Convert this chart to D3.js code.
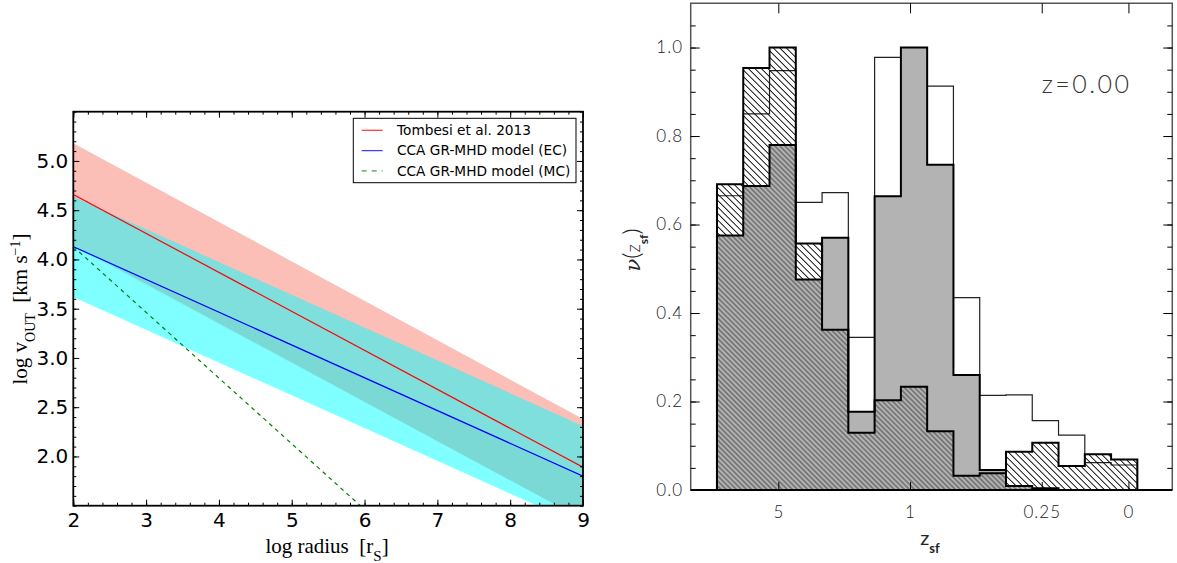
<!DOCTYPE html>
<html>
<head>
<meta charset="utf-8">
<script src="https://cdn.jsdelivr.net/npm/d3@7"></script>
<style>
  body { margin: 0; background: #fff; }
  svg { display: block; }
</style>
</head>
<body>
<div id="chart"></div>
<script>
// Left panel: outflow velocity vs radius (end points of each straight line, log units)
const radius      = [2, 9];
const tombesiMid  = [4.66, 1.89];
const tombesiUp   = [5.18, 2.38];
const tombesiLow  = [4.15, 1.36];
const ecMid       = [4.13, 1.80];
const ecUp        = [4.64, 2.31];
const ecLow       = [3.62, 1.29];
const mcMid       = [4.13, -0.54];
const legendLabels = ["Tombesi et al. 2013", "CCA GR-MHD model (EC)", "CCA GR-MHD model (MC)"];

// Right panel: three normalised histograms over 17 bins of z_sf
const histOpen  = [0, 0.665, 0.85, 0.948, 0.65, 0.672, 0.345, 0.978, 0.96, 0.913, 0.435, 0.214, 0.215, 0.157, 0.124, 0.062, 0.0565];
const histGray  = [0, 0.575, 0.687, 0.78, 0.476, 0.57, 0.177, 0.664, 1.0, 0.735, 0.26, 0.045, 0.009, 0.004, 0, 0, 0];
const histHatch = [0, 0.691, 0.954, 1.0, 0.557, 0.362, 0.1295, 0.203, 0.2335, 0.133, 0.032, 0.038, 0.0866, 0.107, 0.054, 0.081, 0.069];
const zTickPos    = [3.335, 8.348, 13.36, 16.66];
const zTickLabels = ["5", "1", "0.25", "0"];
const yTicksR     = [0, 0.2, 0.4, 0.6, 0.8, 1.0];

const W = 1177, H = 563;
const svg = d3.select("#chart").append("svg").attr("width", W).attr("height", H);
const defs = svg.append("defs");

// ---------- left panel ----------
const L = { left: 73.3, right: 583, top: 111.7, bottom: 505.7 };
const xL = d3.scaleLinear().domain([2, 9]).range([L.left, L.right]);
const yL = d3.scaleLinear().domain([1.5, 5.5]).range([L.bottom, L.top]);

defs.append("clipPath").attr("id", "clipL")
  .append("rect")
  .attr("x", L.left).attr("y", L.top)
  .attr("width", L.right - L.left).attr("height", L.bottom - L.top);

const gL = svg.append("g").attr("clip-path", "url(#clipL)");

const band = (lo, hi) => d3.area()
  .x((d, i) => xL(radius[i]))
  .y0((d, i) => yL(lo[i]))
  .y1((d, i) => yL(hi[i]))(radius);
const line = vals => d3.line()
  .x((d, i) => xL(radius[i]))
  .y(d => yL(d))(vals);

gL.append("path").attr("d", band(tombesiLow, tombesiUp)).attr("fill", "salmon").attr("fill-opacity", 0.5);
gL.append("path").attr("d", band(ecMid, ecUp)).attr("fill", "cyan").attr("fill-opacity", 0.5);
gL.append("path").attr("d", band(ecLow, ecMid)).attr("fill", "cyan").attr("fill-opacity", 0.5);
// slightly darker wedge where the lower EC half overlaps the Tombesi band
const wedgeLow = radius.map((r, i) => Math.min(tombesiLow[i], ecMid[i]));
gL.append("path").attr("d", band(wedgeLow, ecMid)).attr("fill", "#000").attr("fill-opacity", 0.03);

gL.append("path").attr("d", line(tombesiMid)).attr("fill", "none").attr("stroke", "#ff0000").attr("stroke-width", 1.2);
gL.append("path").attr("d", line(ecMid)).attr("fill", "none").attr("stroke", "#0000ff").attr("stroke-width", 1.2);
gL.append("path").attr("d", line(mcMid)).attr("fill", "none").attr("stroke", "#008000")
  .attr("stroke-width", 1.2).attr("stroke-dasharray", "4,4");

// ticks (inward, all sides)
function tickAxis(axis, tx, ty, size, values, fmt, pad) {
  const g = svg.append("g").attr("transform", `translate(${tx},${ty})`)
    .call(axis.tickValues(values).tickSizeInner(-size).tickSizeOuter(0)
      .tickPadding(pad || 3).tickFormat(fmt || (() => "")));
  g.select(".domain").remove();
  return g;
}
const xMinorL = d3.range(0, 36).map(i => 2 + i * 0.2);
const yMinorL = d3.range(0, 41).map(i => 1.5 + i * 0.1);
const xMajorL = d3.range(2, 10);
const yMajorL = [2.0, 2.5, 3.0, 3.5, 4.0, 4.5, 5.0];

[[d3.axisBottom(xL), 0, L.bottom], [d3.axisTop(xL), 0, L.top]].forEach(([ax, tx, ty]) => {
  tickAxis(ax, tx, ty, 3, xMinorL);
});
[[d3.axisLeft(yL), L.left, 0], [d3.axisRight(yL), L.right, 0]].forEach(([ax, tx, ty]) => {
  tickAxis(ax, tx, ty, 3, yMinorL);
});
const xMajG = tickAxis(d3.axisBottom(xL), 0, L.bottom, 6, xMajorL, d3.format("d"), 7.5);
tickAxis(d3.axisTop(xL), 0, L.top, 6, xMajorL);
const yMajG = tickAxis(d3.axisLeft(yL), L.left, 0, 6, yMajorL, d3.format(".1f"), 5);
tickAxis(d3.axisRight(yL), L.right, 0, 6, yMajorL);
svg.selectAll(".tick line").attr("stroke", "#000").attr("stroke-width", 1);
[xMajG, yMajG].forEach(g => g.selectAll("text")
  .style("font-family", "DejaVu Sans, sans-serif").style("font-size", "20px").attr("fill", "#000"));

svg.append("rect")
  .attr("x", L.left).attr("y", L.top)
  .attr("width", L.right - L.left).attr("height", L.bottom - L.top)
  .attr("fill", "none").attr("stroke", "#000").attr("stroke-width", 1.8);

// axis labels (serif like the LaTeX originals)
svg.append("text")
  .attr("x", 327).attr("y", 553)
  .attr("text-anchor", "middle")
  .style("font-family", "Liberation Serif, serif").style("font-size", "21px")
  .call(t => {
    t.append("tspan").text("log radius\u00a0\u00a0[r");
    t.append("tspan").attr("baseline-shift", "sub").style("font-size", "15px").text("S");
    t.append("tspan").text("]");
  });

svg.append("text")
  .attr("transform", "translate(27,309) rotate(-90)")
  .attr("text-anchor", "middle")
  .style("font-family", "Liberation Serif, serif").style("font-size", "21px")
  .call(t => {
    t.append("tspan").text("log v");
    t.append("tspan").attr("baseline-shift", "sub").style("font-size", "14px").text("OUT");
    t.append("tspan").text("\u00a0\u00a0[km s");
    t.append("tspan").attr("baseline-shift", "super").style("font-size", "14px").text("−1");
    t.append("tspan").text("]");
  });

// legend
const legColors = ["#ff0000", "#0000ff", "#008000"];
const legDash = [null, null, "5,5"];
const legG = svg.append("g").attr("transform", "translate(353.3,118.3)");
legG.append("rect").attr("width", 222.7).attr("height", 64.4)
  .attr("fill", "#fff").attr("stroke", "#000").attr("stroke-width", 1);
legendLabels.forEach((lab, i) => {
  const y = 12 + i * 20.3;
  legG.append("line").attr("x1", 8.4).attr("x2", 29.4).attr("y1", y).attr("y2", y)
    .attr("stroke", legColors[i]).attr("stroke-width", 1.3).attr("stroke-opacity", 0.75)
    .attr("stroke-dasharray", legDash[i]);
  legG.append("text").attr("x", 43.7).attr("y", y + 4.8)
    .style("font-family", "DejaVu Sans, sans-serif").style("font-size", "13.7px")
    .attr("fill", "#000").text(lab);
});

// ---------- right panel ----------
const R = { left: 690.7, right: 1172.3, top: 3.3, bottom: 490 };
const xR = d3.scaleLinear().domain([0, 18.33]).range([R.left, R.right]);
const yR = d3.scaleLinear().domain([0, 1.1]).range([R.bottom, R.top]);

function hatch(id, step, width) {
  const p = defs.append("pattern").attr("id", id)
    .attr("patternUnits", "userSpaceOnUse")
    .attr("width", step).attr("height", step)
    .attr("patternTransform", "rotate(45)");
  p.append("line").attr("x1", 0).attr("x2", step).attr("y1", step / 2).attr("y2", step / 2)
    .attr("stroke", "#000").attr("stroke-width", width);
}
hatch("hatchSparse", 4.6, 0.9);
hatch("hatchDense", 3.6, 0.6);

const nBins = histOpen.length;
const edges = d3.range(nBins + 1);
const stepArea = d3.area().curve(d3.curveStepAfter)
  .x(d => xR(d[0])).y0(d => yR(d[1])).y1(d => yR(d[2]));
const stepLine = d3.line().curve(d3.curveStepAfter)
  .x(d => xR(d[0])).y(d => yR(d[1]));
const areaPts = (lo, hi) => edges.map(i => {
  const k = Math.min(i, nBins - 1);
  return [i, lo[k], hi[k]];
});
const outline = vals => stepLine(edges.map(i => [i, vals[Math.min(i, nBins - 1)]]).concat([[nBins, 0]]));
const zeros = histOpen.map(() => 0);
const overlap = histGray.map((g, i) => Math.min(g, histHatch[i]));

const gR = svg.append("g");
gR.append("path").attr("d", outline(histOpen)).attr("fill", "none").attr("stroke", "#222").attr("stroke-width", 1.2);
gR.append("path").attr("d", stepArea(areaPts(zeros, histGray))).attr("fill", "#b3b3b3");
gR.append("path").attr("d", stepArea(areaPts(zeros, overlap))).attr("fill", "url(#hatchDense)");
gR.append("path").attr("d", stepArea(areaPts(overlap, histHatch.map((h, i) => Math.max(h, overlap[i])))))
  .attr("fill", "url(#hatchSparse)");
gR.append("path").attr("d", outline(histGray)).attr("fill", "none").attr("stroke", "#000").attr("stroke-width", 2);
gR.append("path").attr("d", outline(histHatch)).attr("fill", "none").attr("stroke", "#000").attr("stroke-width", 2);

// frame
svg.append("path")
  .attr("d", `M${R.left},${R.bottom}V${R.top}H${R.right}V${R.bottom}`)
  .attr("fill", "none").attr("stroke", "#555").attr("stroke-width", 1.5);
svg.append("line").attr("x1", R.left).attr("x2", R.right).attr("y1", R.bottom).attr("y2", R.bottom)
  .attr("stroke", "#000").attr("stroke-width", 2.2);

const yMinorR = d3.range(1, 22).map(i => i * 0.05);
tickAxis(d3.axisLeft(yR), R.left, 0, 5, yMinorR);
tickAxis(d3.axisRight(yR), R.right, 0, 5, yMinorR);
const yMajR = tickAxis(d3.axisLeft(yR), R.left, 0, 9, yTicksR, d3.format(".1f"), 7.7);
tickAxis(d3.axisRight(yR), R.right, 0, 9, yTicksR);
tickAxis(d3.axisTop(xR), 0, R.top, 10, zTickPos);
const xMajR = tickAxis(d3.axisBottom(xR), 0, R.bottom, 8, zTickPos, (d, i) => zTickLabels[i], 16);
svg.selectAll(".tick line").attr("stroke", "#000");
[yMajR, xMajR].forEach(g => g.selectAll("text")
  .style("font-family", "Lato, sans-serif").style("font-weight", 300)
  .style("font-size", "17px").style("letter-spacing", "1px").attr("fill", "#222"));

svg.append("text")
  .attr("x", 1041.7).attr("y", 93)
  .style("font-family", "Lato, sans-serif").style("font-weight", 300)
  .style("font-size", "25px").style("letter-spacing", "2.5px").attr("fill", "#333")
  .text("z=0.00");

svg.append("text")
  .attr("transform", "translate(640,250) rotate(-90)")
  .attr("text-anchor", "middle").attr("fill", "#222")
  .style("font-family", "Lato, sans-serif").style("font-weight", 300)
  .call(t => {
    t.append("tspan").style("font-family", "DejaVu Serif, serif").style("font-style", "italic").style("font-size", "21px").text("ν");
    t.append("tspan").style("font-size", "24px").text("(");
    t.append("tspan").style("font-size", "19px").text("z");
    t.append("tspan").attr("baseline-shift", "sub").style("font-size", "12px").style("font-weight", 700).text("sf");
    t.append("tspan").style("font-size", "24px").text(")");
  });

svg.append("text")
  .attr("x", 930).attr("y", 545)
  .attr("text-anchor", "middle").attr("fill", "#222")
  .style("font-family", "Lato, sans-serif")
  .call(t => {
    t.append("tspan").style("font-size", "20px").text("z");
    t.append("tspan").attr("baseline-shift", "sub").style("font-size", "13px").style("font-weight", 700).text("sf");
  });
</script>
</body>
</html>
